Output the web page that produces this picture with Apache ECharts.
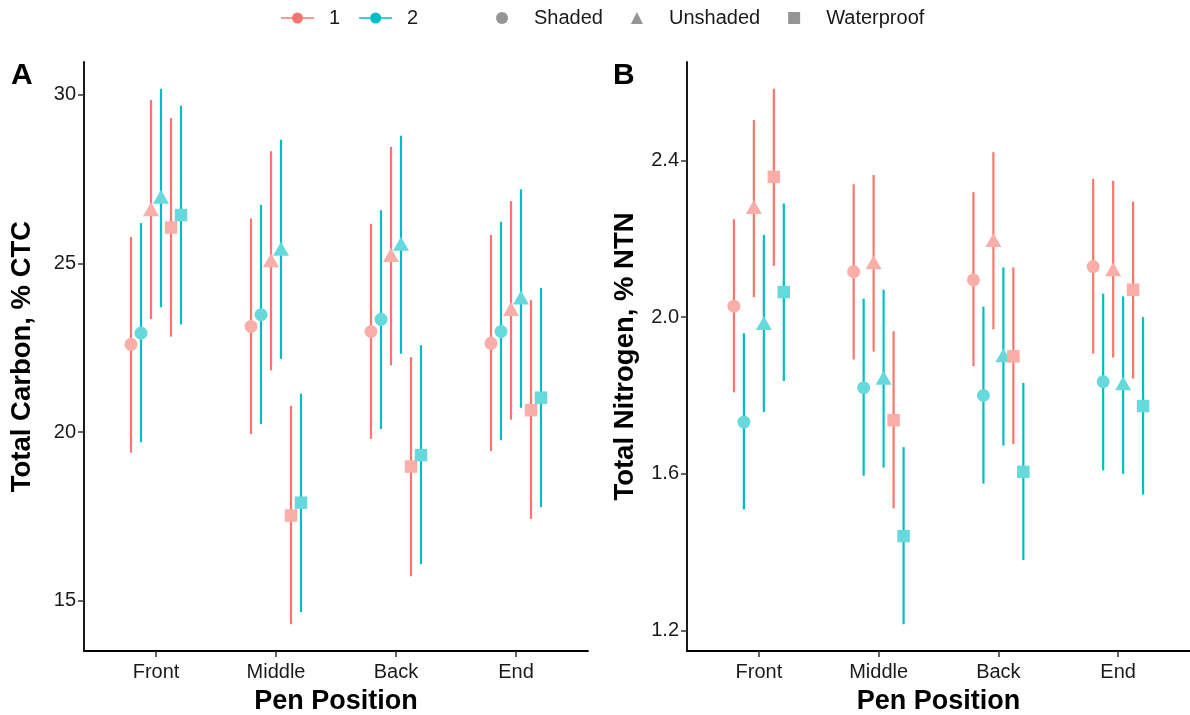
<!DOCTYPE html>
<html>
<head>
<meta charset="utf-8">
<script src="https://cdn.jsdelivr.net/npm/echarts@6/dist/echarts.min.js"></script>
<style>
html,body{margin:0;padding:0;background:#fff;}
#chart{width:1190px;height:715px;}
</style>
</head>
<body>
<div id="chart"></div>
<script>
// ---- DATA ----
const positions = ['Front', 'Middle', 'Back', 'End'];
const groups = ['1', '2'];
const shapes = ['Shaded', 'Unshaded', 'Waterproof'];
const carbonTicks = [15, 20, 25, 30];
const nitrogenTicks = [1.2, 1.6, 2.0, 2.4];

// each entry: [mean, lower, upper] for Front, Middle, Back, End
const carbon1Shaded     = [[22.60, 19.39, 25.78], [23.13, 19.94, 26.33], [22.98, 19.80, 26.17], [22.63, 19.44, 25.84]];
const carbon2Shaded     = [[22.93, 19.70, 26.19], [23.48, 20.24, 26.73], [23.34, 20.09, 26.57], [22.98, 19.76, 26.23]];
const carbon1Unshaded   = [[26.60, 23.35, 29.84], [25.09, 21.83, 28.32], [25.25, 21.98, 28.45], [23.65, 20.37, 26.84]];
const carbon2Unshaded   = [[26.97, 23.70, 30.17], [25.43, 22.17, 28.66], [25.58, 22.32, 28.78], [23.99, 20.72, 27.19]];
const carbon1Waterproof = [[26.06, 22.83, 29.30], [17.53, 14.31, 20.78], [18.98, 15.73, 22.22], [20.65, 17.43, 23.91]];
const carbon2Waterproof = [[26.43, 23.19, 29.67], [17.91, 14.67, 21.14], [19.32, 16.09, 22.57], [21.02, 17.78, 24.27]];

const nitrogen1Shaded     = [[2.028, 1.808, 2.250], [2.116, 1.892, 2.339], [2.095, 1.875, 2.319], [2.129, 1.907, 2.353]];
const nitrogen2Shaded     = [[1.732, 1.509, 1.959], [1.820, 1.595, 2.047], [1.800, 1.575, 2.027], [1.835, 1.609, 2.060]];
const nitrogen1Unshaded   = [[2.281, 2.051, 2.503], [2.140, 1.912, 2.363], [2.197, 1.969, 2.421], [2.122, 1.897, 2.348]];
const nitrogen2Unshaded   = [[1.985, 1.758, 2.210], [1.845, 1.616, 2.070], [1.903, 1.672, 2.127], [1.831, 1.600, 2.053]];
const nitrogen1Waterproof = [[2.358, 2.131, 2.583], [1.737, 1.512, 1.964], [1.900, 1.676, 2.127], [2.070, 1.843, 2.295]];
const nitrogen2Waterproof = [[2.064, 1.837, 2.290], [1.441, 1.216, 1.668], [1.605, 1.380, 1.832], [1.773, 1.547, 2.000]];

// ---- STYLE ----
const lineColors = {'1': '#F8766D', '2': '#00BFC4'};
const pointColors = {'1': '#FBADA7', '2': '#66D9DC'};
const symbols = {Shaded: 'circle', Unshaded: 'triangle', Waterproof: 'rect'};
const symbolSizes = {Shaded: 13, Unshaded: [16, 14], Waterproof: 12.5};
const FONT = 'Arial, "Liberation Sans", sans-serif';
const TEXT = '#1a1a1a';
const dodgeWidth = 0.5;

const panels = [
  {name: 'Total Carbon, % CTC', ticks: carbonTicks, dec: 0,
   table: {'1': {Shaded: carbon1Shaded, Unshaded: carbon1Unshaded, Waterproof: carbon1Waterproof},
           '2': {Shaded: carbon2Shaded, Unshaded: carbon2Unshaded, Waterproof: carbon2Waterproof}}},
  {name: 'Total Nitrogen, % NTN', ticks: nitrogenTicks, dec: 1,
   table: {'1': {Shaded: nitrogen1Shaded, Unshaded: nitrogen1Unshaded, Waterproof: nitrogen1Waterproof},
           '2': {Shaded: nitrogen2Shaded, Unshaded: nitrogen2Unshaded, Waterproof: nitrogen2Waterproof}}}
];

function dodgeX(catIdx, shapeIdx, groupIdx) {
  const k = shapeIdx * 2 + groupIdx;
  const step = dodgeWidth / 6;
  return catIdx + 1 + (k - 2.5) * step;
}

function renderBar(params, api) {
  const x = api.value(0), lo = api.value(1), hi = api.value(2);
  const p1 = api.coord([x, lo]);
  const p2 = api.coord([x, hi]);
  return {type: 'line', shape: {x1: p1[0], y1: p1[1], x2: p2[0], y2: p2[1]},
          style: {stroke: api.visual('color'), lineWidth: 2.2}};
}

const grids = [
  {left: 84, top: 62, width: 504, bottom: 64, outerBoundsMode: 'none', containLabel: false},
  {left: 687, top: 62, right: 0, bottom: 64, outerBoundsMode: 'none', containLabel: false}
];
const xAxes = [], yAxes = [], series = [];

panels.forEach((p, pi) => {
  let lo = Infinity, hi = -Infinity;
  groups.forEach(g => shapes.forEach(s => p.table[g][s].forEach(v => {
    lo = Math.min(lo, v[1]); hi = Math.max(hi, v[2]);
  })));
  const pad = (hi - lo) * 0.05;
  xAxes.push({
    type: 'value', gridIndex: pi, min: 0.4, max: 4.6,
    name: 'Pen Position', nameLocation: 'middle', nameGap: 37,
    nameTextStyle: {fontFamily: FONT, fontSize: 27, fontWeight: 'bold', color: '#000'},
    axisLine: {onZero: false, lineStyle: {color: '#000', width: 1.8}},
    axisTick: {customValues: [1, 2, 3, 4], length: 6, lineStyle: {color: '#333', width: 1.5}},
    axisLabel: {customValues: [1, 2, 3, 4], margin: 11, fontFamily: FONT, fontSize: 20, color: TEXT,
                formatter: v => positions[Math.round(v) - 1]},
    splitLine: {show: false}
  });
  yAxes.push({
    type: 'value', gridIndex: pi, min: lo - pad, max: hi + pad,
    name: p.name, nameLocation: 'middle', nameGap: 48,
    nameTextStyle: {fontFamily: FONT, fontSize: 27.5, fontWeight: 'bold', color: '#000'},
    axisLine: {show: true, onZero: false, lineStyle: {color: '#000', width: 1.8}},
    axisTick: {show: true, customValues: p.ticks, length: 6, lineStyle: {color: '#333', width: 1.5}},
    axisLabel: {customValues: p.ticks, margin: 8, fontFamily: FONT, fontSize: 20, color: TEXT,
                formatter: v => v.toFixed(p.dec)},
    splitLine: {show: false}
  });
  groups.forEach((g, gi) => {
    const bars = [];
    shapes.forEach((s, si) => p.table[g][s].forEach((v, ci) => {
      bars.push([dodgeX(ci, si, gi), v[1], v[2]]);
    }));
    series.push({
      type: 'custom', name: g, xAxisIndex: pi, yAxisIndex: pi,
      itemStyle: {color: lineColors[g]},
      encode: {x: 0, y: [1, 2]}, renderItem: renderBar, data: bars, z: 2
    });
  });
  shapes.forEach((s, si) => groups.forEach((g, gi) => {
    series.push({
      type: 'scatter', name: g, xAxisIndex: pi, yAxisIndex: pi,
      symbol: symbols[s], symbolSize: symbolSizes[s],
      itemStyle: {color: pointColors[g], opacity: 1},
      data: p.table[g][s].map((v, ci) => [dodgeX(ci, si, gi), v[0]]),
      z: 3
    });
  }));
});

shapes.forEach(s => {
  series.push({type: 'scatter', name: s, xAxisIndex: 0, yAxisIndex: 0, symbol: symbols[s],
               itemStyle: {color: '#7A7A7A'}, data: []});
});

const keyIcon = 'path://M0,5.25L33,5.25L33,6.75L0,6.75Z M11,6A5.5,5.5 0 1,1 22,6A5.5,5.5 0 1,1 11,6Z';

const option = {
  animation: false,
  backgroundColor: '#fff',
  grid: grids,
  xAxis: xAxes,
  yAxis: yAxes,
  series: series,
  legend: [
    {left: 281, top: 8, padding: 0, itemWidth: 33, itemHeight: 12, itemGap: 19, selectedMode: false,
     textStyle: {fontFamily: FONT, fontSize: 20, color: TEXT, padding: [0, 0, 0, 10]},
     data: groups.map(g => ({name: g, icon: keyIcon, itemStyle: {color: lineColors[g]}}))},
    {left: 496, top: 8, padding: 0, itemWidth: 12, itemHeight: 12, itemGap: 28, selectedMode: false,
     textStyle: {fontFamily: FONT, fontSize: 20, color: TEXT, padding: [0, 0, 0, 21]},
     data: shapes.map(s => ({name: s, icon: symbols[s], itemStyle: {color: '#7A7A7A'}}))}
  ],
  graphic: [
    {type: 'text', left: 11, top: 61, style: {text: 'A', font: 'bold 30px ' + FONT, fill: '#000'}},
    {type: 'text', left: 613, top: 61, style: {text: 'B', font: 'bold 30px ' + FONT, fill: '#000'}}
  ]
};

const chart = echarts.init(document.getElementById('chart'), null, {renderer: 'canvas'});
chart.setOption(option);
</script>
</body>
</html>
